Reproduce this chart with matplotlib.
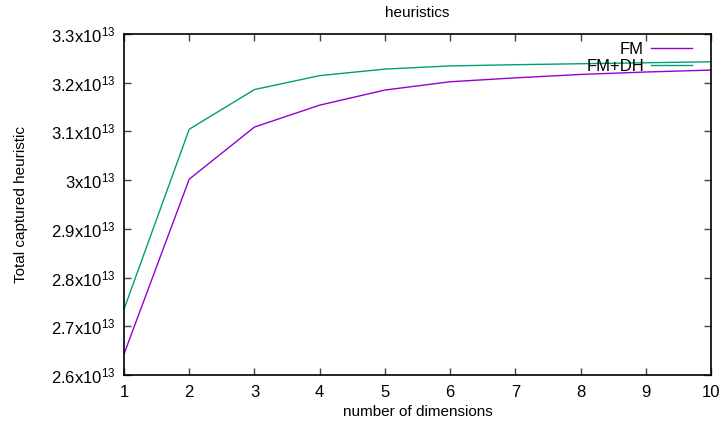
import matplotlib
matplotlib.use('Agg')
import matplotlib.pyplot as plt
from matplotlib.ticker import FuncFormatter

plt.rcParams['font.family'] = ['Liberation Sans', 'DejaVu Sans']

dims = [1, 2, 3, 4, 5, 6, 7, 8, 9, 10]
fm = [2.643e13, 3.002e13, 3.109e13, 3.154e13, 3.185e13, 3.202e13, 3.210e13, 3.217e13, 3.222e13, 3.226e13]
fm_dh = [2.735e13, 3.1045e13, 3.186e13, 3.2146e13, 3.228e13, 3.2345e13, 3.237e13, 3.239e13, 3.241e13, 3.243e13]
yticks = [2.6e13, 2.7e13, 2.8e13, 2.9e13, 3.0e13, 3.1e13, 3.2e13, 3.3e13]

fig = plt.figure(figsize=(7.23, 4.29), dpi=100)
ax = fig.add_axes([0.1715, 0.1259, 0.812, 0.7948])

ax.plot(dims, fm, color='#9400d3', lw=1.0, label='FM')
ax.plot(dims, fm_dh, color='#009e73', lw=1.0, label='FM+DH')

ax.set_xlim(1, 10)
ax.set_ylim(2.6e13, 3.3e13)
ax.set_xticks(dims)
ax.set_yticks(yticks)

def fmt(v, pos):
    m = v / 1e13
    s = ('%.1f' % m).rstrip('0').rstrip('.')
    return r'%s$\mathregular{x10^{13}}$' % s

ax.yaxis.set_major_formatter(FuncFormatter(fmt))
ax.tick_params(direction='in', length=5, width=1, color='#444444',
               top=True, right=True, labelsize=12, pad=6)
ax.tick_params(axis='x', pad=7)
for sp in ax.spines.values():
    sp.set_linewidth(1.2)

ax.set_title('heuristics', fontsize=11, pad=12)
ax.set_xlabel('number of dimensions', fontsize=11, labelpad=4)
ax.set_ylabel('Total captured heuristic', fontsize=11)
ax.yaxis.set_label_coords(-0.164, 0.5)

leg = ax.legend(loc='upper right', frameon=False, markerfirst=False,
                fontsize=12, handlelength=2.5, handletextpad=0.4,
                borderaxespad=0.2, labelspacing=0.1,
                bbox_to_anchor=(0.985, 1.005))
for t in leg.get_texts():
    t.set_ha('right')

fig.savefig('out.png', dpi=100)
